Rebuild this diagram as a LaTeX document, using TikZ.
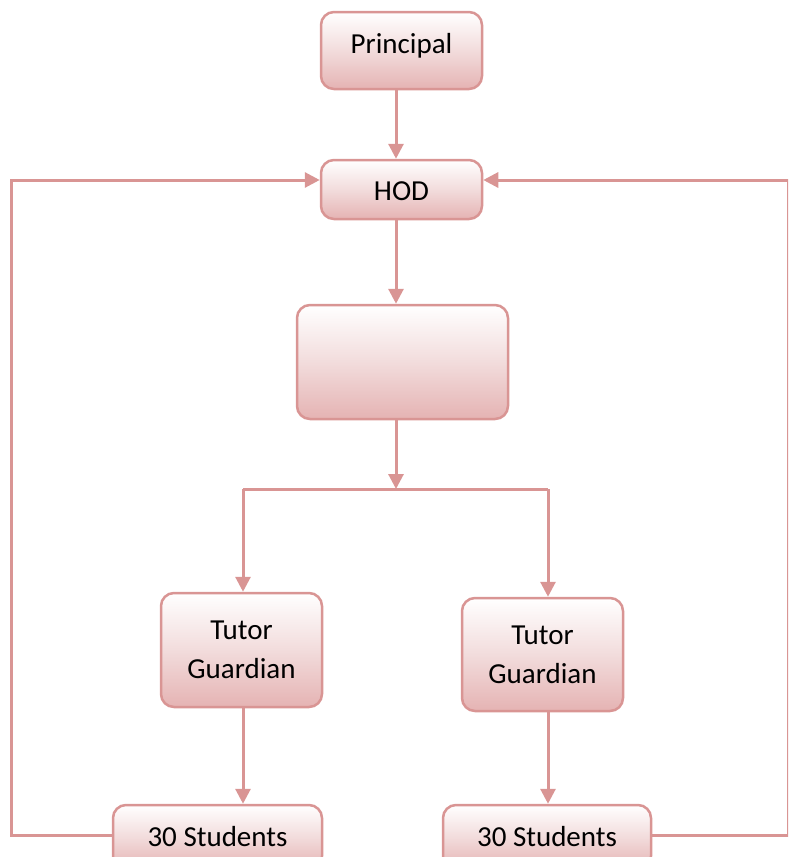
\documentclass[tikz,border=0pt]{standalone}
\usepackage{fontspec}
\setmainfont{Carlito}
\usetikzlibrary{arrows.meta,calc}
\definecolor{edgepink}{HTML}{D99594}
\definecolor{fillpink}{HTML}{E5B3B3}
\definecolor{midpink}{HTML}{F2DCDC}
\tikzset{
  box/.style={draw=edgepink, line width=2.5pt, rounded corners=13pt,
    top color=white, bottom color=fillpink, middle color=midpink,
    align=center, inner sep=0pt, font=\fontsize{29}{39}\selectfont},
  conn/.style={draw=edgepink, line width=3pt},
  arr/.style={conn, -{Triangle[width=15pt,length=15pt]}}
}
\begin{document}
\begin{tikzpicture}[x=1pt,y=-1pt]
\useasboundingbox (0,0) rectangle (788,857);
\clip (0,0) rectangle (788,857);
\coordinate (ax) at (396,0);
\coordinate (axl) at (243,0);
\coordinate (axr) at (548,0);
\coordinate (jn) at (396,489);
\coordinate (jl) at (243,489);
\coordinate (jr) at (548,489);
\coordinate (lc) at (11,180);
\coordinate (rc) at (788.5,180);

\node[box, minimum width=161pt, minimum height=77pt] (principal) at (401.5,50.5) {\raisebox{5pt}[\height][\depth]{Principal}};
\node[box, minimum width=161pt, minimum height=59pt] (hod) at (401.5,189.5) {\raisebox{-2pt}[\height][\depth]{HOD}};
\node[box, minimum width=211pt, minimum height=114pt] (mid) at (402.5,362) {};
\node[box, minimum width=161pt, minimum height=114pt] (tg1) at (241.5,650) {Tutor\\Guardian};
\node[box, minimum width=161pt, minimum height=113pt] (tg2) at (542.5,654.5) {Tutor\\Guardian};
\node[box, minimum width=209pt, minimum height=64pt] (s1) at (217.5,837) {30 Students};
\node[box, minimum width=208pt, minimum height=64pt] (s2) at (547,837) {30 Students};

\draw[arr] (principal.south -| ax) -- (hod.north -| ax);
\draw[arr] (hod.south -| ax) -- (mid.north -| ax);
\draw[arr] (mid.south -| ax) -- (jn);
\draw[conn] (jl) -- (jr);
\draw[arr] (jl) -- (tg1.north -| axl);
\draw[arr] (jr) -- (tg2.north -| axr);
\draw[arr] (tg1.south -| axl) -- (s1.north -| axl);
\draw[arr] (tg2.south -| axr) -- (s2.north -| axr);
\draw[arr] (s1.west |- 0,835) -| (lc) -- (hod.west |- lc);
\draw[arr] (s2.east |- 0,835) -| (rc) -- (hod.east |- rc);
\end{tikzpicture}
\end{document}
